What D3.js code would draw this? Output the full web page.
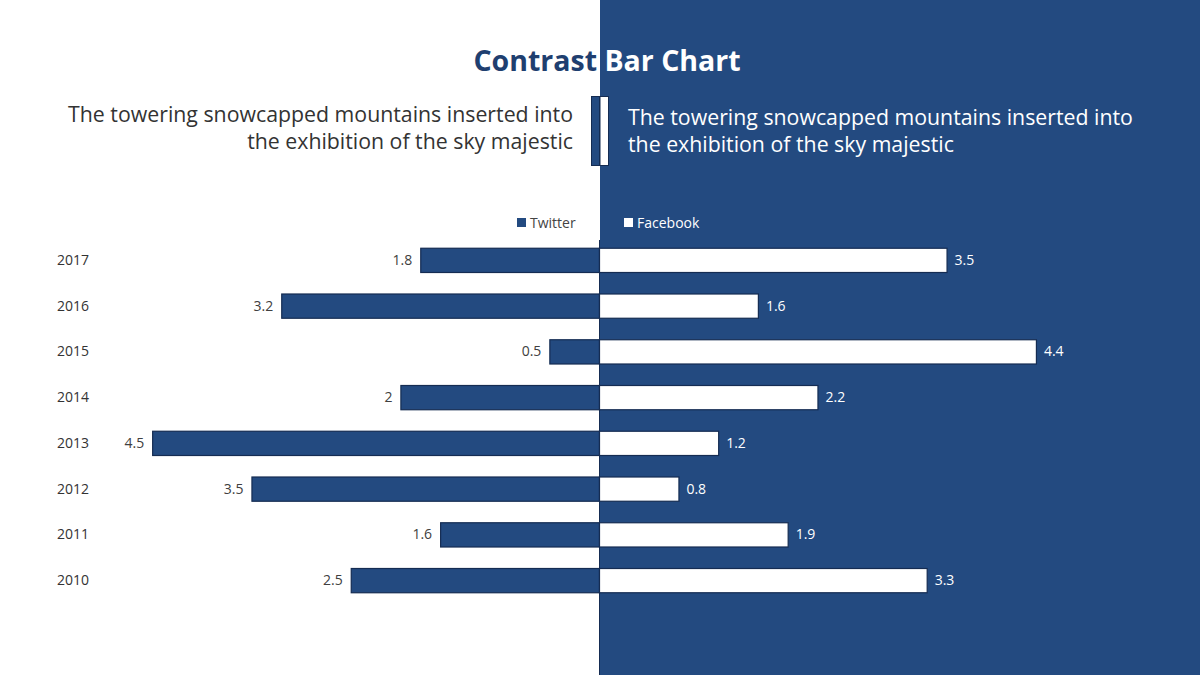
<!DOCTYPE html>
<html>
<head>
<meta charset="utf-8">
<script src="https://cdn.jsdelivr.net/npm/d3@7"></script>
<style>
  body { margin: 0; background: #fff; }
  svg { display: block; font-family: "Open Sans", "Noto Sans", sans-serif; }
</style>
</head>
<body>
<div id="chart"></div>
<script>
// data
const years = ["2017", "2016", "2015", "2014", "2013", "2012", "2011", "2010"];
const twitter = [1.8, 3.2, 0.5, 2, 4.5, 3.5, 1.6, 2.5];
const facebook = [3.5, 1.6, 4.4, 2.2, 1.2, 0.8, 1.9, 3.3];
const seriesNames = ["Twitter", "Facebook"];
const subtitleLines = ["The towering snowcapped mountains inserted into", "the exhibition of the sky majestic"];

const W = 1200, H = 675;
const navy = "#234a80";
const edge = "#152c52";
const centerX = 599;

const svg = d3.select("#chart").append("svg")
    .attr("width", W)
    .attr("height", H);

// right blue panel
svg.append("rect")
    .attr("x", 600).attr("y", 0)
    .attr("width", W - 600).attr("height", H)
    .attr("fill", navy);

// title
const title = svg.append("text")
    .attr("x", 607).attr("y", 71)
    .attr("text-anchor", "middle")
    .style("font-size", "28.5px")
    .style("font-weight", "bold");
title.append("tspan").attr("fill", "#1f3f70").text("Contrast ");
title.append("tspan").attr("fill", "#fff").text("Bar Chart");

// subtitles
subtitleLines.forEach((line, i) => {
    svg.append("text")
        .attr("x", 573).attr("y", 122 + i * 27)
        .attr("text-anchor", "end")
        .attr("fill", "#333")
        .style("font-size", "21.3px")
        .text(line);
    svg.append("text")
        .attr("x", 628).attr("y", 125 + i * 27)
        .attr("fill", "#fff")
        .style("font-size", "21.3px")
        .text(line);
});

// divider marks
svg.append("rect")
    .attr("x", 591.5).attr("y", 96.5)
    .attr("width", 8).attr("height", 69)
    .attr("fill", navy).attr("stroke", edge).attr("stroke-width", 1);
svg.append("rect")
    .attr("x", 600).attr("y", 96.5)
    .attr("width", 8.5).attr("height", 69)
    .attr("fill", "#fff").attr("stroke", edge).attr("stroke-width", 1);

// scales
const x = d3.scaleLinear().domain([0, 1]).range([0, 99.3]);
const y = d3.scaleBand()
    .domain(years)
    .range([237, 603])
    .paddingInner(0.47)
    .paddingOuter(0.235);

// legend
const legend = svg.append("g");
[{ name: seriesNames[0], x: 517, fill: navy, text: "#444" },
 { name: seriesNames[1], x: 624, fill: "#fff", text: "#fff" }].forEach(d => {
    legend.append("rect")
        .attr("x", d.x).attr("y", 218)
        .attr("width", 9).attr("height", 9)
        .attr("fill", d.fill);
    legend.append("text")
        .attr("x", d.x + 13).attr("y", 223)
        .attr("dy", "0.35em")
        .attr("fill", d.text)
        .style("font-size", "14px")
        .text(d.name);
});

// axis line
svg.append("line")
    .attr("x1", centerX + 0.5).attr("x2", centerX + 0.5)
    .attr("y1", 240).attr("y2", H)
    .attr("stroke", edge).attr("stroke-width", 1);

// year labels
svg.selectAll(".year")
    .data(years)
    .enter().append("text")
    .attr("class", "year")
    .attr("x", 57)
    .attr("y", d => y(d) + y.bandwidth() / 2)
    .attr("dy", "0.35em")
    .attr("fill", "#333")
    .style("font-size", "14px")
    .text(d => d);

// twitter bars
svg.selectAll(".tw")
    .data(years)
    .enter().append("rect")
    .attr("class", "tw")
    .attr("x", (d, i) => centerX - x(twitter[i]) + 0.5)
    .attr("y", d => y(d) + 0.5)
    .attr("width", (d, i) => x(twitter[i]))
    .attr("height", y.bandwidth())
    .attr("fill", navy)
    .attr("stroke", edge)
    .attr("stroke-width", 1.2);

svg.selectAll(".twLabel")
    .data(years)
    .enter().append("text")
    .attr("class", "twLabel")
    .attr("x", (d, i) => centerX - x(twitter[i]) - 8)
    .attr("y", d => y(d) + y.bandwidth() / 2)
    .attr("dy", "0.35em")
    .attr("text-anchor", "end")
    .attr("fill", "#404040")
    .style("font-size", "14px")
    .text((d, i) => twitter[i]);

// facebook bars
svg.selectAll(".fb")
    .data(years)
    .enter().append("rect")
    .attr("class", "fb")
    .attr("x", centerX + 0.5)
    .attr("y", d => y(d) + 0.5)
    .attr("width", (d, i) => x(facebook[i]))
    .attr("height", y.bandwidth())
    .attr("fill", "#fff")
    .attr("stroke", edge)
    .attr("stroke-width", 1.2);

svg.selectAll(".fbLabel")
    .data(years)
    .enter().append("text")
    .attr("class", "fbLabel")
    .attr("x", (d, i) => centerX + x(facebook[i]) + 8)
    .attr("y", d => y(d) + y.bandwidth() / 2)
    .attr("dy", "0.35em")
    .attr("fill", "#fff")
    .style("font-size", "14px")
    .text((d, i) => facebook[i]);
</script>
</body>
</html>
